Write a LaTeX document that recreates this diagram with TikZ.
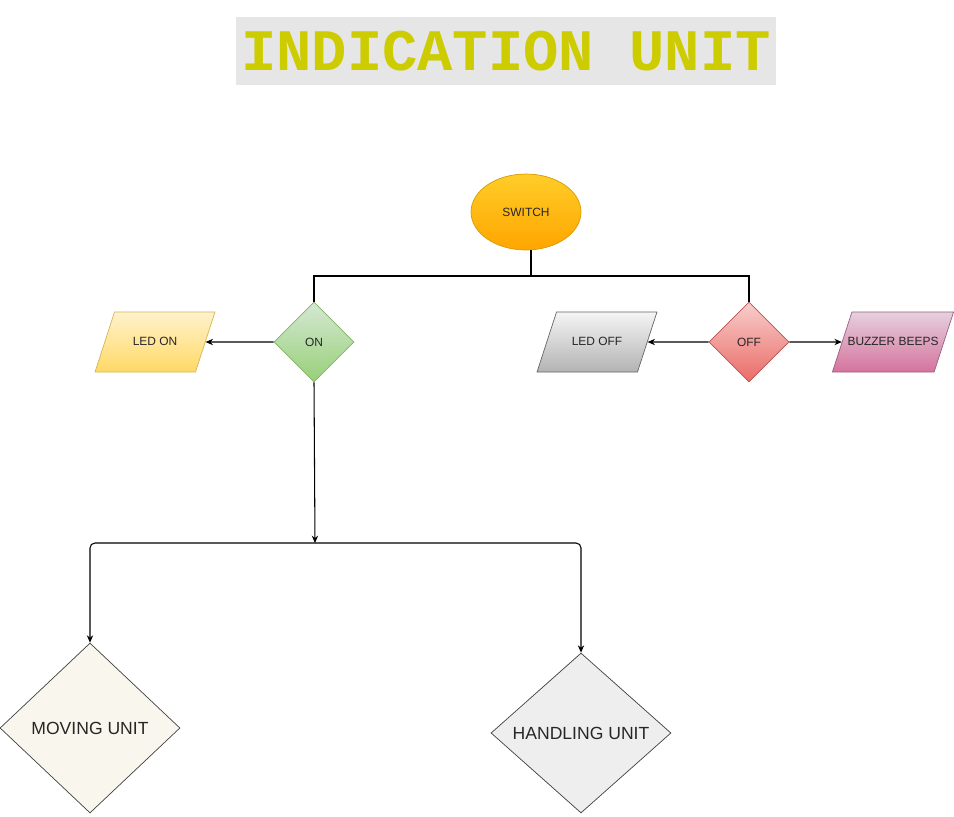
\documentclass[tikz,border=0pt]{standalone}
\usepackage{fontspec}
\setmainfont{Liberation Sans}
\newfontfamily\titlefont{Liberation Mono}
\usetikzlibrary{shapes.geometric,arrows.meta}

\definecolor{titleyellow}{HTML}{CCCC00}
\definecolor{titlegray}{HTML}{E6E6E6}

\begin{document}
\begin{tikzpicture}[x=0.02cm,y=-0.02cm,
	every node/.style={font=\fontsize{6.8pt}{8pt}\selectfont, text=black!85},
	decision/.style={diamond,draw,inner sep=0pt,minimum width=1.6cm,minimum height=1.6cm,aspect=1},
	io/.style={trapezium,draw,trapezium stretches body=true,trapezium left angle=72,trapezium right angle=108,
		minimum width=2.4cm,text height=4.9pt,text depth=1.4pt,inner xsep=0pt,inner ysep=0.49cm},
	unit/.style={diamond,draw=black!75,inner sep=0pt,font=\fontsize{10pt}{12pt}\selectfont},
	arr/.style={-{Stealth[length=4.2pt,width=3.6pt]},line width=0.6pt}]

	\useasboundingbox (0,0) rectangle (954,816);

	\node (title) [fill=titlegray,minimum width=10.8cm,minimum height=1.36cm,inner sep=0pt,
		font=\titlefont\bfseries\fontsize{33.5pt}{36pt}\selectfont,text=titleyellow] at (506,51) {INDICATION UNIT};

	\node (sw) [ellipse,draw={rgb,255:red,215;green,155;blue,0},
		top color={rgb,255:red,255;green,205;blue,40},bottom color={rgb,255:red,255;green,165;blue,0},
		minimum width=2.2cm,minimum height=1.52cm,inner sep=0pt] at (526,212) {SWITCH};

	\node (on) [decision,draw={rgb,255:red,130;green,179;blue,102},
		top color={rgb,255:red,213;green,232;blue,212},bottom color={rgb,255:red,151;green,208;blue,119}] at (314,342) {ON};
	\node (off) [decision,draw={rgb,255:red,184;green,84;blue,80},
		top color={rgb,255:red,248;green,206;blue,204},bottom color={rgb,255:red,234;green,107;blue,102}] at (749,342) {OFF};

	\node (ledon) [io,draw={rgb,255:red,214;green,182;blue,86},
		top color={rgb,255:red,255;green,242;blue,204},bottom color={rgb,255:red,255;green,217;blue,102}] at (155,342) {LED ON};
	\node (ledoff) [io,draw={rgb,255:red,102;green,102;blue,102},
		top color={rgb,255:red,245;green,245;blue,245},bottom color={rgb,255:red,179;green,179;blue,179}] at (597,342) {LED OFF};
	\node (buzz) [io,inner xsep=-2.5pt,draw={rgb,255:red,153;green,97;blue,133},
		top color={rgb,255:red,230;green,208;blue,222},bottom color={rgb,255:red,213;green,115;blue,157}] at (893,342) {BUZZER BEEPS};

	\node (mov) [unit,fill={rgb,255:red,249;green,247;blue,237},minimum width=3.6cm,minimum height=3.4cm] at (90,728) {MOVING UNIT};
	\node (hand) [unit,fill={rgb,255:red,238;green,238;blue,238},minimum width=3.6cm,minimum height=3.2cm] at (581,733) {HANDLING UNIT};

	\coordinate (split) at (531,276);
	\coordinate (fork) at (315,543);

	% switch to the two states
	\draw[line width=1.3pt] (sw.south -| split) -- (split);
	\draw[line width=1.3pt] (split) -| (on.north);
	\draw[line width=1.3pt] (split) -| (off.north);

	\draw[arr] (on.west) -- (ledon.east);
	\draw[arr] (off.west) -- (ledoff.east);
	\draw[arr] (off.east) -- (buzz.west);

	\draw[arr] (on.south) -- (fork);
	\draw[arr,rounded corners=2.8pt] (fork) -| (mov.north);
	\draw[arr,rounded corners=2.8pt] (fork) -| (hand.north);

\end{tikzpicture}
\end{document}
